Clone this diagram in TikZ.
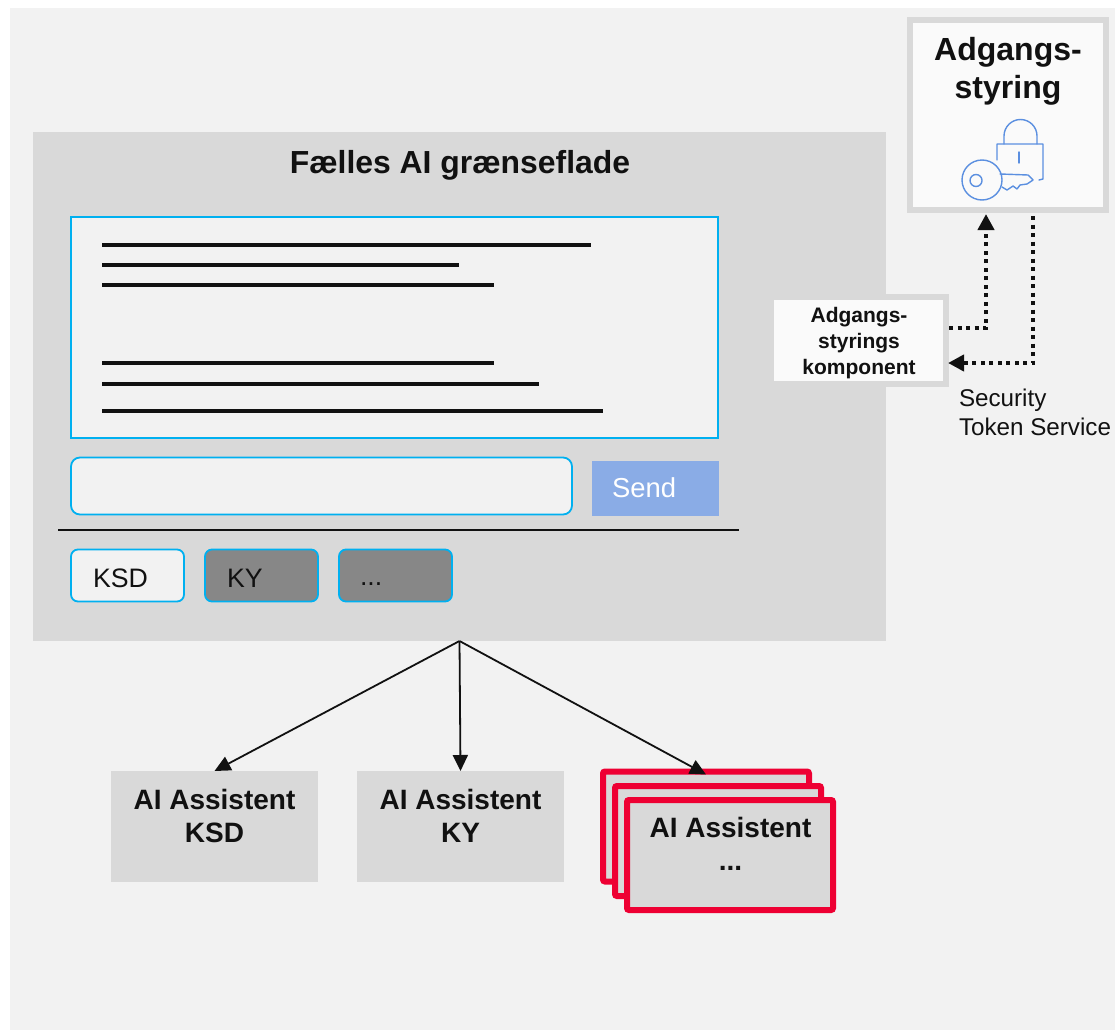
\documentclass[tikz,border=0pt]{standalone}
\usepackage{fontspec}
\setmainfont{Liberation Sans}
\usetikzlibrary{arrows.meta}
\definecolor{bgc}{HTML}{F2F2F2}
\definecolor{panel}{HTML}{D9D9D9}
\definecolor{lite}{HTML}{FAFAFA}
\definecolor{cyanl}{HTML}{00B0F0}
\definecolor{sendc}{HTML}{8AACE6}
\definecolor{tabd}{HTML}{878787}
\definecolor{redc}{HTML}{EE0033}
\definecolor{inkc}{HTML}{111111}
\definecolor{iconc}{HTML}{5B8FE0}
\tikzset{
  box/.style={rectangle,inner sep=0pt,outer sep=0pt},
  panelbox/.style={box,fill=panel},
  chatbox/.style={box,draw=cyanl,line width=1.8pt,fill=bgc},
  tabbox/.style={chatbox,rounded corners=7pt,minimum width=113pt,minimum height=52pt},
  darktab/.style={tabbox,fill=tabd},
  guardbox/.style={box,draw=panel,line width=6pt,fill=lite},
  redbox/.style={box,draw=redc,line width=6pt,fill=panel,rounded corners=2pt,minimum width=206pt,minimum height=110pt},
  aibox/.style={panelbox,minimum width=207pt,minimum height=111pt},
  txt/.style={inner sep=0pt,outer sep=0pt,text=inkc},
  aitxt/.style={txt,align=center,font=\fontsize{28}{33}\selectfont\bfseries},
  tabtxt/.style={txt,anchor=west,font=\fontsize{26.7}{32}\selectfont},
  rule/.style={draw=inkc,line width=4pt},
  flow/.style={draw=inkc,line width=1.8pt,-{Triangle[width=15pt,length=16pt]}},
  dots/.style={draw=inkc,line width=4pt,dash pattern=on 4pt off 4.5pt,-{Triangle[width=16pt,length=16pt,sep=0pt]}},
  iconl/.style={draw=iconc,line width=1.4pt,line cap=round,line join=round},
}
\begin{document}
\begin{tikzpicture}[x=1pt,y=-1pt]
\useasboundingbox (0,0) rectangle (1115,1030);
\fill[white] (0,0) rectangle (1115,1030);
\fill[bgc] (10,8) rectangle (1115,1030);

% main panel
\node[panelbox,minimum width=853pt,minimum height=509pt] (main) at (459.5,386.5) {};
\node[txt,font=\fontsize{31.9}{38}\selectfont\bfseries] (title) at (460,165) {Fælles AI grænseflade};
\node[chatbox,minimum width=647pt,minimum height=221pt] (chat) at (394.5,327.5) {};
\draw[rule] (102,245) -- (591,245);
\draw[rule] (102,265) -- (459,265);
\draw[rule] (102,285) -- (494,285);
\draw[rule] (102,363) -- (494,363);
\draw[rule] (102,384) -- (539,384);
\draw[rule] (102,411) -- (603,411);
\node[chatbox,rounded corners=9pt,minimum width=501pt,minimum height=57pt] (input) at (321.5,486) {};
\node[box,fill=sendc,minimum width=127pt,minimum height=55pt] (send) at (655.5,488.5) {};
\node[txt,anchor=west,text=white,font=\fontsize{27.4}{32}\selectfont] (sendt) at (612,488) {Send};
\draw[draw=inkc,line width=1.8pt] (58,530) -- (739,530);
\node[tabbox] (tab1) at (127.5,575.5) {};
\node[darktab] (tab2) at (261.5,575.5) {};
\node[darktab] (tab3) at (395.5,575.5) {};
\node[tabtxt] (tab1t) at (93,578) {KSD};
\node[tabtxt] (tab2t) at (227,578) {KY};
\node[tabtxt] (tab3t) at (360,584) {...};

% AI boxes
\node[aibox] (ai1) at (214.5,826.5) {};
\node[aibox] (ai2) at (460.5,826.5) {};
\node[redbox] (r1) at (706,826.5) {};
\draw[flow] (main.south) -- (ai1.north);
\draw[flow] (main.south) -- (ai2.north);
\draw[flow] (main.south) -- ([yshift=-3pt]r1.north);
\node[redbox] (r2) at (718,841) {};
\node[redbox] (r3) at (730,855) {};
\node[aitxt] (ai1t) at (214.5,815.5) {AI Assistent\\KSD};
\node[aitxt] (ai2t) at (460.5,815.5) {AI Assistent\\KY};
\node[aitxt] (r3t) at (730.5,844) {AI Assistent\\...};

% access control
\node[guardbox,minimum width=196pt,minimum height=190pt] (acc) at (1008,115) {};
\node[txt,align=center,font=\fontsize{32}{38}\selectfont\bfseries] (acct) at (1008,71.5) {Adgangs-\\styring};
\node[guardbox,minimum width=175pt,minimum height=87pt,outer sep=3pt] (comp) at (858.5,340.5) {};
\node[txt,align=center,font=\fontsize{21}{26}\selectfont\bfseries] (compt) at (859,343.5) {Adgangs-\\styrings\\komponent};
\node[txt,anchor=north west,align=left,font=\fontsize{24.2}{28.5}\selectfont] (sts) at (959,389) {Security\\Token Service};
\draw[dots] ([yshift=12.5pt]comp.east) -| ([xshift=-22pt,yshift=-4pt]acc.south);
\draw[dots] ([xshift=25pt,yshift=-6pt]acc.south) |- ([xshift=-1pt,yshift=-22.5pt]comp.east);

% lock and key icon
\draw[iconl] (1004,144) -- (1004,136) arc[start angle=180,end angle=360,radius=16.5] -- (1037,144);
\draw[iconl] (997,160) -- (997,144) -- (1043,144) -- (1043,179) -- (1039,180);
\draw[iconl] (1019,152) -- (1019,163);
\draw[iconl] (982,180) circle[radius=20];
\draw[iconl] (976,180.5) circle[radius=6];
\draw[iconl] (1000,174) -- (1028,175) -- (1033,180) -- (1027,184) -- (1020,185) -- (1017,189) -- (1013,186) -- (1007,190) -- (1002,187);
\end{tikzpicture}
\end{document}
